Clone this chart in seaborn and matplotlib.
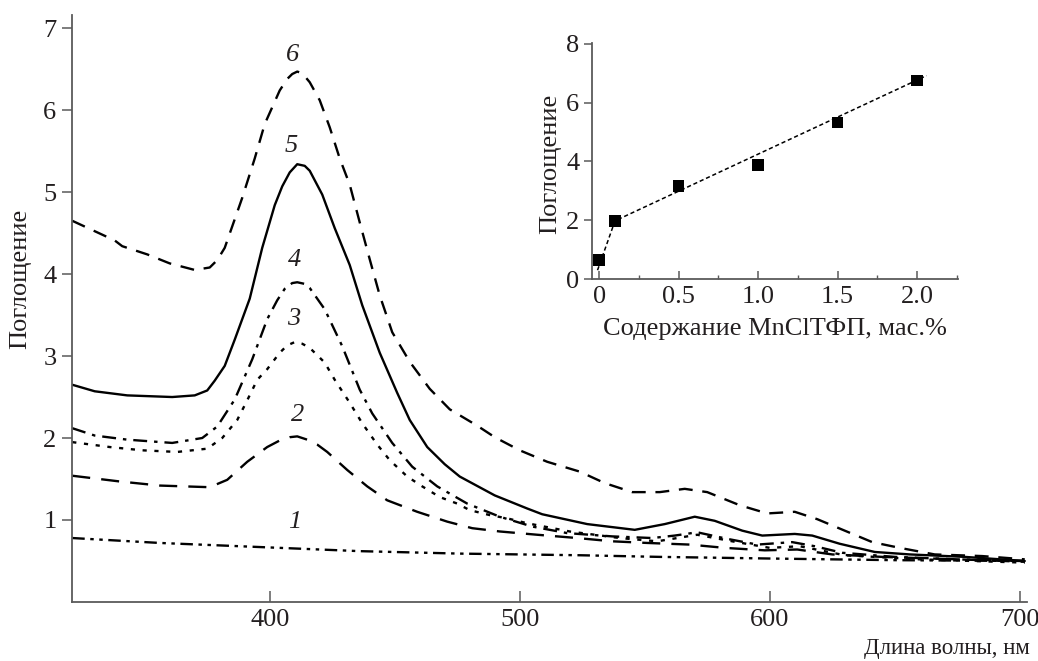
import numpy as np
import pandas as pd
import matplotlib
matplotlib.use("Agg")
import matplotlib.pyplot as plt
import seaborn as sns

sns.set_style("ticks")
plt.rcParams['font.family'] = ['Liberation Serif', 'DejaVu Serif']
plt.rcParams['lines.scale_dashes'] = False

ink = '#231f20'
spine = '#5a5a5a'

# spectra (wavelength nm / absorbance)
wl1 = [321, 356, 396, 436, 476, 524, 556, 600, 650, 702]
a1 = [0.78, 0.72, 0.67, 0.62, 0.59, 0.57, 0.55, 0.53, 0.51, 0.50]

wl2 = [321, 340, 356, 376, 383, 391, 399, 404, 408, 411, 415, 419, 423, 431, 439, 447, 459, 471,
       481, 492, 507, 523, 537, 551, 568, 582, 598, 611, 625, 645, 665, 685, 702]
a2 = [1.54, 1.47, 1.42, 1.40, 1.49, 1.71, 1.89, 1.97, 2.01, 2.02, 1.98, 1.92, 1.83, 1.61, 1.41, 1.24, 1.10, 0.98,
      0.90, 0.86, 0.82, 0.78, 0.74, 0.72, 0.70, 0.66, 0.63, 0.64, 0.58, 0.55, 0.53, 0.51, 0.49]

wl3 = [321, 336, 349, 363, 375, 381, 387, 391, 395, 399, 404, 407, 410, 413, 416, 422, 426, 432, 437, 443,
       448, 455, 461, 468, 475, 480, 488, 495, 503, 520, 540, 555, 571, 585, 600, 612, 630, 660, 702]
a3 = [1.95, 1.89, 1.85, 1.83, 1.87, 2.00, 2.22, 2.46, 2.71, 2.84, 3.04, 3.13, 3.17, 3.15, 3.10, 2.92, 2.71, 2.43, 2.18, 1.92,
      1.73, 1.53, 1.41, 1.28, 1.20, 1.12, 1.06, 1.02, 0.96, 0.86, 0.78, 0.74, 0.82, 0.74, 0.66, 0.68, 0.57, 0.52, 0.48]

wl4 = [321, 330, 343, 361, 373, 379, 386, 393, 399, 403, 406, 409, 411, 414, 416, 422, 429, 436, 441, 449, 457,
       467, 479, 492, 505, 519, 537, 553, 562, 571, 583, 595, 609, 618, 629, 650, 675, 702]
a4 = [2.12, 2.03, 1.98, 1.94, 2.00, 2.14, 2.47, 2.96, 3.45, 3.68, 3.82, 3.89, 3.90, 3.88, 3.83, 3.57, 3.12, 2.59, 2.30, 1.94, 1.65,
      1.41, 1.20, 1.04, 0.92, 0.84, 0.80, 0.78, 0.81, 0.85, 0.77, 0.70, 0.73, 0.68, 0.60, 0.55, 0.52, 0.50]

wl5 = [321, 330, 343, 361, 370, 375, 378, 382, 386, 392, 397, 402, 405, 408, 411, 414, 416, 421, 426, 432, 437, 444, 451,
       456, 463, 470, 476, 490, 503, 509, 527, 546, 558, 570, 578, 589, 597, 610, 617, 628, 642, 656, 678, 702]
a5 = [2.65, 2.57, 2.52, 2.50, 2.52, 2.58, 2.70, 2.88, 3.20, 3.70, 4.32, 4.84, 5.07, 5.24, 5.34, 5.32, 5.26, 4.97, 4.56, 4.11, 3.62, 3.04, 2.55,
      2.22, 1.89, 1.68, 1.53, 1.30, 1.14, 1.07, 0.95, 0.88, 0.95, 1.04, 0.99, 0.87, 0.81, 0.83, 0.81, 0.71, 0.61, 0.58, 0.55, 0.50]

wl6 = [321, 338, 341, 351, 360, 370, 376, 379, 382, 389, 394, 398, 404, 407, 409, 411, 413, 416, 420, 424, 428, 432, 436, 440, 444, 449,
       456, 464, 472, 483, 490, 500, 511, 524, 534, 545, 556, 566, 575, 588, 599, 610, 619, 630, 641, 652, 666, 685, 702]
a6 = [4.65, 4.41, 4.34, 4.24, 4.13, 4.05, 4.08, 4.17, 4.32, 4.93, 5.41, 5.83, 6.24, 6.38, 6.44, 6.47, 6.45, 6.34, 6.12, 5.79, 5.41, 5.09, 4.63, 4.18, 3.74, 3.29,
      2.93, 2.60, 2.35, 2.15, 2.01, 1.85, 1.71, 1.59, 1.45, 1.34, 1.34, 1.38, 1.34, 1.18, 1.08, 1.10, 1.01, 0.87, 0.73, 0.66, 0.58, 0.56, 0.52]

# inset: absorbance vs MnClTPP content
content = [0, 0.1, 0.5, 1.0, 1.5, 2.0]
absorb = [0.65, 1.98, 3.17, 3.88, 5.32, 6.75]
fit_x = [-0.01, 0.1, 2.06]
fit_y = [0.3, 1.98, 6.92]

curves = [
    (wl1, a1, (0, (9, 4, 2.5, 4, 2.5, 4)), '1'),
    (wl2, a2, (0, (13, 8)), '2'),
    (wl3, a3, (0, (3, 5.5)), '3'),
    (wl4, a4, (0, (10, 5, 2.5, 5)), '4'),
    (wl5, a5, '-', '5'),
    (wl6, a6, (0, (10, 7)), '6'),
]
label_pos = {'1': (410, 0.98), '2': (411, 2.28), '3': (409.5, 3.45),
             '4': (410, 4.17), '5': (408.5, 5.56), '6': (409, 6.67)}

fig = plt.figure(figsize=(10.38, 6.61), dpi=100)
ax = fig.add_axes([0.0691, 0.0893, 0.9203, 0.888])

for wl, a, ls, name in curves:
    df = pd.DataFrame({'wl': wl, 'a': a})
    sns.lineplot(data=df, x='wl', y='a', ax=ax, color='black', lw=1.7,
                 linestyle=ls, estimator=None, solid_joinstyle='round')
    tx, ty = label_pos[name]
    ax.text(tx, ty, name, ha='center', va='center', fontsize=19,
            style='italic', color=ink)

ax.set_xlim(320.8, 702.9)
ax.set_ylim(0, 7.16)
ax.set_xticks([400, 500, 600, 700])
ax.set_yticks([1, 2, 3, 4, 5, 6, 7])
ax.tick_params(axis='x', direction='in', length=8, width=1.1, color=spine,
               labelsize=19, labelcolor=ink, pad=5)
ax.tick_params(axis='y', direction='out', length=7, width=1.1, color=spine,
               labelsize=19, labelcolor=ink, pad=4)
for s in ['top', 'right']:
    ax.spines[s].set_visible(False)
for s in ['left', 'bottom']:
    ax.spines[s].set_color(spine)
    ax.spines[s].set_linewidth(1.3)
ax.set_xlabel('Длина волны, нм', fontsize=16.5, color=ink, loc='right')
ax.xaxis.set_label_coords(1.003, -0.062)
ax.set_ylabel('Поглощение', fontsize=19, color=ink)
ax.yaxis.set_label_coords(-0.042, 0.55)

# inset
ins = fig.add_axes([0.5703, 0.5779, 0.3526, 0.3570])
ins.patch.set_alpha(0)
sns.lineplot(x=fit_x, y=fit_y, ax=ins, color='black', lw=1.1,
             linestyle=(0, (3, 2)), estimator=None)
sns.scatterplot(x=content, y=absorb, ax=ins, marker='s', s=70, color='black',
                edgecolor='none', zorder=3)
ins.set_xlim(-0.045, 2.258)
ins.set_ylim(0, 8.03)
ins.set_xticks([0, 0.5, 1.0, 1.5, 2.0])
ins.set_xticklabels(['0', '0.5', '1.0', '1.5', '2.0'])
ins.set_xticks([0.25, 0.75, 1.25, 1.75, 2.25], minor=True)
ins.set_yticks([0, 2, 4, 6, 8])
ins.tick_params(axis='x', which='major', direction='in', length=6, width=1.1,
                color=spine, labelsize=19, labelcolor=ink, pad=5)
ins.tick_params(axis='x', which='minor', direction='in', length=3, width=1.0,
                color=spine)
ins.tick_params(axis='y', direction='out', length=6, width=1.1, color=spine,
                labelsize=19, labelcolor=ink, pad=3)
for s in ['top', 'right']:
    ins.spines[s].set_visible(False)
for s in ['left', 'bottom']:
    ins.spines[s].set_color(spine)
    ins.spines[s].set_linewidth(1.3)
ins.set_xlabel('Содержание MnClТФП, мас.%', fontsize=19, color=ink)
ins.xaxis.set_label_coords(0.5, -0.165)
ins.set_ylabel('Поглощение', fontsize=19, color=ink)
ins.yaxis.set_label_coords(-0.085, 0.49)

fig.savefig('out.png', dpi=100)
